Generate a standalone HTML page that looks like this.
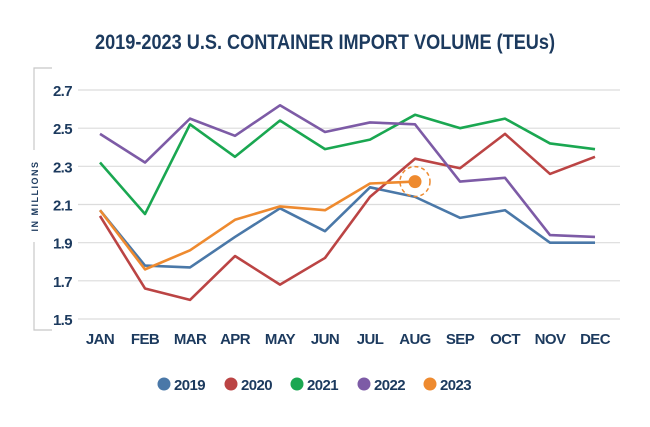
<!DOCTYPE html>
<html><head><meta charset="utf-8"><style>
body{margin:0;background:#fff;width:650px;height:422px;overflow:hidden;font-family:"Liberation Sans",sans-serif}
</style></head><body>
<svg id="c" width="650" height="422">
<text x="95" y="49" textLength="460" lengthAdjust="spacingAndGlyphs" font-size="21" font-weight="bold" fill="#1c3a5e">2019-2023 U.S. CONTAINER IMPORT VOLUME (TEUs)</text>
<g stroke="#c8c8c8" stroke-width="1.2" fill="none">
<path d="M52 68 H34 V150"/><path d="M34 242 V330 H52"/>
</g>
<text transform="translate(38,196) rotate(-90)" text-anchor="middle" font-size="9" font-weight="bold" fill="#1c3a5e" letter-spacing="1.5">IN MILLIONS</text>
<g id="grid"></g><g id="lines"></g>
</svg>
<script>
const months=["JAN","FEB","MAR","APR","MAY","JUN","JUL","AUG","SEP","OCT","NOV","DEC"];
const yTicks=[1.5,1.7,1.9,2.1,2.3,2.5,2.7];
const s2019=[2.07,1.78,1.77,1.93,2.08,1.96,2.19,2.14,2.03,2.07,1.90,1.90];
const s2020=[2.04,1.66,1.60,1.83,1.68,1.82,2.14,2.34,2.29,2.47,2.26,2.35];
const s2021=[2.32,2.05,2.52,2.35,2.54,2.39,2.44,2.57,2.50,2.55,2.42,2.39];
const s2022=[2.47,2.32,2.55,2.46,2.62,2.48,2.53,2.52,2.22,2.24,1.94,1.93];
const s2023=[2.07,1.76,1.86,2.02,2.09,2.07,2.21,2.22];
const seriesNames=["2019","2020","2021","2022","2023"];
const colors=["#4a78a8","#bb4444","#1aa751","#7d5ba6","#ee8a2f"];
const all=[s2019,s2020,s2021,s2022,s2023];
const NS="http://www.w3.org/2000/svg";
const x=i=>100+i*45;
const y=v=>319-(v-1.5)/1.2*229;
const svg=document.getElementById('c'),grid=document.getElementById('grid'),lines=document.getElementById('lines');
function mk(tag,a,p){const e=document.createElementNS(NS,tag);for(const k in a)e.setAttribute(k,a[k]);p.appendChild(e);return e;}
yTicks.forEach(t=>{
const l=mk('line',{x1:78,x2:620,y1:y(t),y2:y(t),stroke:'#dcdcdc','stroke-width':1.2},grid);


const tx=mk('text',{x:72,y:y(t)+6,'text-anchor':'end','font-size':15,'font-weight':'bold',fill:'#1c3a5e','letter-spacing':'-0.6'},grid);
tx.textContent=t.toFixed(1);


});
months.forEach((m,i)=>{
const tx=mk('text',{x:x(i),y:344,'text-anchor':'middle','font-size':15,'font-weight':'bold',fill:'#1c3a5e','letter-spacing':'-0.6'},grid);
tx.textContent=m;


});
all.forEach((s,k)=>{
const p=mk('polyline',{points:s.map((v,i)=>x(i)+','+y(v)).join(' '),fill:'none',stroke:colors[k],'stroke-width':2.6,'stroke-linejoin':'round'},lines);


});
const li=s2023.length-1;
const ring=mk('circle',{cx:x(li),cy:y(s2023[li]),r:15,fill:'none',stroke:colors[4],'stroke-width':1.5,'stroke-dasharray':'4 3'},lines);


const dot=mk('circle',{cx:x(li),cy:y(s2023[li]),r:6.5,fill:colors[4]},lines);


const lx=[164,231,297,364,430];
seriesNames.forEach((n,k)=>{
const g=mk('g',{},svg);


mk('circle',{cx:lx[k],cy:384,r:6.5,fill:colors[k]},g);
const t=mk('text',{x:lx[k]+10,y:390,'font-size':15,'font-weight':'bold',fill:'#1c3a5e','letter-spacing':'-0.6'},g);
t.textContent=n;
});
</script>
</body></html>
